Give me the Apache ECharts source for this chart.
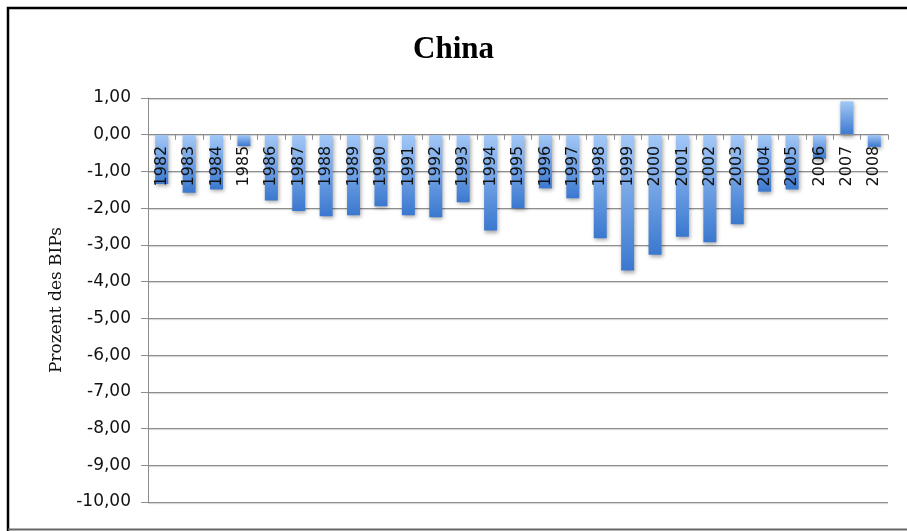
<!DOCTYPE html>
<html>
<head>
<meta charset="utf-8">
<style>
  html, body { margin: 0; padding: 0; background: #fff; }
  #chart { width: 907px; height: 531px; }
</style>
<script src="https://cdn.jsdelivr.net/npm/echarts@6/dist/echarts.min.js"></script>
</head>
<body>
<div id="chart"></div>
<script>
const titleText = 'China';
const yAxisName = 'Prozent des BIPs';
const years = ['1982','1983','1984','1985','1986','1987','1988','1989','1990','1991','1992','1993','1994','1995','1996','1997','1998','1999','2000','2001','2002','2003','2004','2005','2006','2007','2008'];
const values = [-1.34,-1.58,-1.49,-0.31,-1.79,-2.08,-2.22,-2.19,-1.95,-2.19,-2.25,-1.84,-2.61,-2.00,-1.46,-1.73,-2.82,-3.70,-3.27,-2.78,-2.93,-2.44,-1.55,-1.49,-0.65,0.91,-0.33];
const yMin = -10, yMax = 1, yStep = 1;

const W = 907, H = 531;
const gridTop = 98, gridBottom = 29, gridLeft = 148, gridRight = 19;
// place the category axis on the zero line of the value axis
const plotH = H - gridTop - gridBottom;
const zeroY = gridTop + plotH * (yMax - 0) / (yMax - yMin);
const xAxisOffset = -((H - gridBottom) - zeroY);

const chart = echarts.init(document.getElementById('chart'), null, { renderer: 'canvas' });
chart.setOption({
  backgroundColor: '#fff',
  animation: false,
  title: {
    text: titleText,
    left: 'center',
    top: 29,
    textStyle: { fontFamily: 'Liberation Serif', fontWeight: 'bold', fontSize: 31, color: '#000' }
  },
  grid: { left: gridLeft, right: gridRight, top: gridTop, bottom: gridBottom, containLabel: false, outerBoundsMode: 'none' },
  xAxis: {
    type: 'category',
    data: years,
    position: 'bottom',
    offset: xAxisOffset,
    z: 10,
    axisLine: { show: true, onZero: false, lineStyle: { color: '#8c8c8c', width: 1 } },
    axisTick: { show: true, alignWithLabel: false, length: 5, lineStyle: { color: '#8c8c8c' } },
    axisLabel: { rotate: 90, margin: 11, interval: 0, fontFamily: 'DejaVu Sans', fontSize: 16, color: '#111' },
    splitLine: { show: false }
  },
  yAxis: {
    type: 'value',
    min: yMin, max: yMax, interval: yStep,
    name: yAxisName,
    nameLocation: 'middle',
    nameGap: 80,
    nameTextStyle: { fontFamily: 'DejaVu Serif', fontSize: 17, color: '#111' },
    axisLine: { show: true, lineStyle: { color: '#8c8c8c', width: 1 } },
    axisTick: { show: true, length: 7, lineStyle: { color: '#8c8c8c' } },
    axisLabel: {
      margin: 17, fontFamily: 'DejaVu Sans', fontSize: 17, color: '#111',
      formatter: v => (Math.abs(v) < 1e-9 ? 0 : v).toFixed(2).replace('.', ',')
    },
    splitLine: { show: true, lineStyle: { color: '#8e8e8e', width: 1, shadowColor: 'rgba(0,0,0,0.2)', shadowOffsetY: 1, shadowBlur: 1 } }
  },
  series: [{
    type: 'bar',
    data: values,
    barWidth: 13,
    z: 1,
    itemStyle: {
      color: new echarts.graphic.LinearGradient(0, 0, 0, 1, [
        { offset: 0, color: '#a3c8f7' },
        { offset: 1, color: '#3a78cf' }
      ]),
      shadowColor: 'rgba(0,0,0,0.35)',
      shadowBlur: 4,
      shadowOffsetX: 1,
      shadowOffsetY: 2
    }
  }],
  graphic: [
    { type: 'polyline', shape: { points: [[8, 531], [8, 8], [907, 8]] }, style: { stroke: '#000', lineWidth: 2.5, fill: null }, z: 100 },
    { type: 'line', shape: { x1: 8, y1: 529.5, x2: 907, y2: 529.5 }, style: { stroke: '#666', lineWidth: 2 }, z: 100 }
  ]
});
</script>
</body>
</html>
